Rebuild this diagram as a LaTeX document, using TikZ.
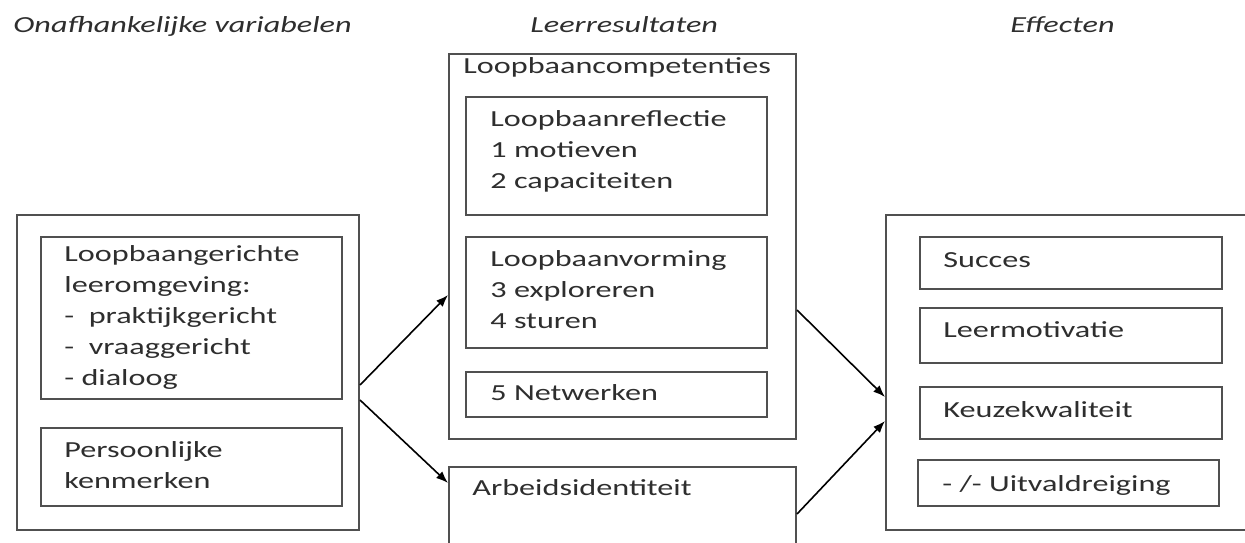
\documentclass[tikz,border=0pt]{standalone}
\usepackage{fontspec}
\setmainfont{Carlito}[FakeStretch=1.4]
\usetikzlibrary{arrows.meta,fit}
\definecolor{ink}{HTML}{2E2E2E}
\definecolor{frame}{HTML}{505050}
\begin{document}
\begin{tikzpicture}[x=0.5pt,y=-0.5pt,
  box/.style={draw=frame,line width=1pt,inner sep=0pt},
  txt/.style={anchor=base west,inner sep=0pt,text=ink,font=\fontsize{11.5pt}{15.5pt}\selectfont,align=left},
  ttl/.style={anchor=base west,inner sep=0pt,text=ink,font=\fontsize{11.5pt}{15.5pt}\selectfont\itshape},
  arr/.style={draw=black,line width=0.8pt,-{Latex[length=6pt,width=4.5pt]}}]
\useasboundingbox[fill=white] (0,0) rectangle (1245,542);

% titles
\node[ttl] (t1) at (13,32) {Onafhankelijke variabelen};
\node[ttl] (t2) at (530,32) {Leerresultaten};
\node[ttl] (t3) at (1010,32) {Effecten};

% left column (multi-line texts are placed by the baseline of their last line)
\node[box,fit={(17,215) (359,530)}] (L) {};
\node[box,fit={(41,237) (342,399)}] (L1) {};
\node[box,fit={(41,428) (342,506)}] (L2) {};
\node[txt] (L1t) at (64,385) {Loopbaangerichte\\leeromgeving:\\-\ \ praktijkgericht\\-\ \ vraaggericht\\- dialoog};
\node[txt] (L2t) at (64,488) {Persoonlijke\\kenmerken};

% middle column
\node[box,fit={(449,54) (796,439)}] (M) {};
\node[txt] (Mt) at (463,73) {Loopbaancompetenties};
\node[box,fit={(466,97) (767,215)}] (M1) {};
\node[box,fit={(466,237) (767,348)}] (M2) {};
\node[box,fit={(466,372) (767,417)}] (M3) {};
\node[txt] (M1t) at (490,188) {Loopbaanreflectie\\1 motieven\\2 capaciteiten};
\node[txt] (M2t) at (490,328) {Loopbaanvorming\\3 exploreren\\4 sturen};
\node[txt] (M3t) at (490,400) {5 Netwerken};
\node[box,fit={(449,467) (796,580)}] (A) {};
\node[txt] (At) at (472,495) {Arbeidsidentiteit};

% right column
\node[box,fit={(886,215) (1260,530)}] (R) {};
\node[box,fit={(920,237) (1222,289)}] (R1) {};
\node[box,fit={(920,308) (1222,363)}] (R2) {};
\node[box,fit={(920,387) (1222,439)}] (R3) {};
\node[box,fit={(918,460) (1219,506)}] (R4) {};
\node[txt] (R1t) at (943,267) {Succes};
\node[txt] (R2t) at (943,337) {Leermotivatie};
\node[txt] (R3t) at (943,417) {Keuzekwaliteit};
\node[txt] (R4t) at (942,491) {- /- Uitvaldreiging};

% connectors
\draw[arr] (L.east |- 0,385) -- (M.west |- 0,295);
\draw[arr] (L.east |- 0,400) -- (A.west |- 0,483);
\draw[arr] (M.east |- 0,310) -- (R.west |- 0,397);
\draw[arr] (A.east |- 0,514) -- (R.west |- 0,421);
\end{tikzpicture}
\end{document}
